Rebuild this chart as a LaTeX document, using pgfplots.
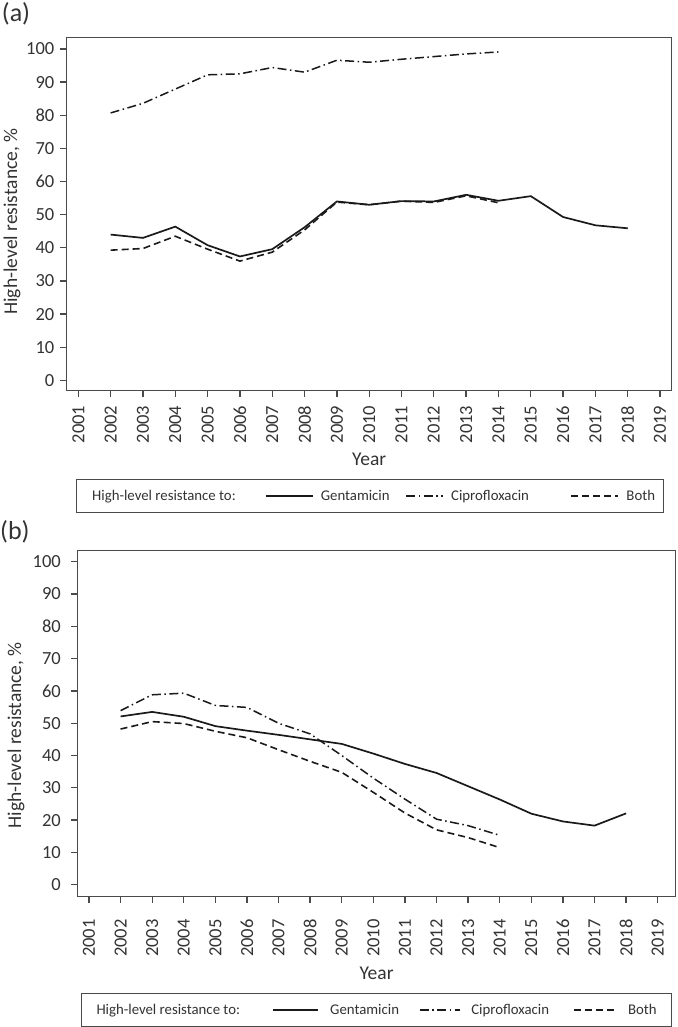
\documentclass[border=0pt]{standalone}
\usepackage{fontspec}
\setmainfont{Carlito}
\usepackage{pgfplots}
\pgfplotsset{compat=1.18}
\definecolor{axgray}{HTML}{4A4A4A}
\definecolor{txt}{HTML}{333333}
\definecolor{ln}{HTML}{1A1A1A}
\newcommand\tickfont{\fontsize{18.5}{20}\selectfont}
\newcommand\labfont{\fontsize{19.5}{22}\selectfont}
\newcommand\legfont{\fontsize{14.8}{17}\selectfont}
\newcommand\panfont{\fontsize{26}{28}\selectfont}
\pgfplotsset{
  myaxis/.style={
    scale only axis,
    xtick={2001,2002,...,2019},
    ytick={0,10,...,100},
    tick align=outside,
    major tick length=6.5pt,
    xtick pos=left, ytick pos=left,
    axis line style={axgray, line width=1.3pt},
    major tick style={axgray, line width=1.3pt},
    tick label style={font=\tickfont, text=txt},
    /pgf/number format/assume math mode=true,
    /pgf/number format/1000 sep={},
    label style={font=\labfont, text=txt},
    xlabel={Year},
    ylabel={High-level resistance, \%},
    legend cell align=left,
  },
  gent/.style={ln, line width=1.7pt},
  cipro/.style={ln, line width=1.5pt, dash pattern=on 9pt off 3.5pt on 1.5pt off 3.5pt},
  both/.style={ln, line width=1.6pt, dash pattern=on 7pt off 4pt},
  limg/.style={legend image code/.code={\draw[##1] (0pt,0pt) -- (#1,0pt);}},
}
\begin{document}
\begin{tikzpicture}
\path[use as bounding box] (0pt,0pt) rectangle (677pt,-1027pt);
\node[anchor=north west, inner sep=0pt, font=\panfont, text=txt] at (1.7pt,-2pt) {(a)};
\node[anchor=north west, inner sep=0pt, font=\panfont, text=txt] at (0pt,-520pt) {(b)};

\begin{axis}[myaxis,
  at={(66.7pt,-390.7pt)}, anchor=south west,
  width=605pt, height=353pt,
  xmin=2000.64, xmax=2019.36, ymin=-3.1, ymax=103.4,
  xticklabel style={rotate=90, anchor=east, inner sep=0pt, xshift=-8.3pt},
  yticklabel style={anchor=east, inner sep=0pt, xshift=-5.7pt},
  xlabel style={at={(axis description cs:0.5,-0.1765)}, anchor=north, inner sep=0pt},
  ylabel style={at={(axis description cs:-0.0904,0.479)}, anchor=center, inner sep=0pt},
  legend style={at={(axis description cs:0.01537,-0.2501)}, anchor=north west,
    draw=axgray, line width=1pt, legend columns=4, inner xsep=0pt, inner ysep=8.85pt,
    font=\legfont, text=txt,
    nodes={inner sep=0pt, text height=12pt, text depth=3pt},
    /tikz/every odd column/.style={column sep=7pt},
    /tikz/every even column/.style={column sep=0pt}},
]
\addlegendimage{empty legend}
\addlegendentry{\makebox[181.6pt][l]{\hspace{8.7pt}High-level resistance to:}}
\addplot[gent, limg=47pt] coordinates {
(2002,44.0) (2003,43.0) (2004,46.4) (2005,40.8) (2006,37.4) (2007,39.6) (2008,46.2)
(2009,54.0) (2010,53.0) (2011,54.1) (2012,54.0) (2013,56.0) (2014,54.2) (2015,55.6)
(2016,49.3) (2017,46.8) (2018,45.9)};
\addlegendentry{\makebox[84.9pt][l]{Gentamicin}}
\addplot[cipro, limg=37pt] coordinates {
(2002,80.7) (2003,83.6) (2004,87.9) (2005,92.2) (2006,92.5) (2007,94.4) (2008,93.0)
(2009,96.6) (2010,96.0) (2011,96.9) (2012,97.7) (2013,98.5) (2014,99.1)};
\addlegendentry{\makebox[119.4pt][l]{Ciprofloxacin}}
\addplot[both, limg=46.6pt] coordinates {
(2002,39.3) (2003,39.8) (2004,43.5) (2005,39.6) (2006,36.0) (2007,38.7) (2008,45.4)
(2009,53.8) (2010,53.0) (2011,54.1) (2012,53.7) (2013,55.7) (2014,53.6)};
\addlegendentry{\makebox[38pt][l]{\hspace{0.7pt}Both}}
\end{axis}

\begin{axis}[myaxis,
  at={(77.5pt,-896.7pt)}, anchor=south west,
  width=598.2pt, height=346pt,
  xmin=2000.636, xmax=2019.57, ymin=-3.7, ymax=103.4,
  xticklabel style={rotate=90, anchor=east, inner sep=0pt, xshift=-16pt},
  yticklabel style={anchor=east, inner sep=0pt, xshift=-10pt},
  xlabel style={at={(axis description cs:0.5,-0.2032)}, anchor=north, inner sep=0pt},
  ylabel style={at={(axis description cs:-0.1028,0.467)}, anchor=center, inner sep=0pt},
  legend style={at={(axis description cs:0.00535,-0.2783)}, anchor=north west,
    draw=axgray, line width=1pt, legend columns=4, inner xsep=0pt, inner ysep=9pt,
    font=\legfont, text=txt,
    nodes={inner sep=0pt, text height=12pt, text depth=3pt},
    /tikz/every odd column/.style={column sep=11pt},
    /tikz/every even column/.style={column sep=0pt}},
]
\addlegendimage{empty legend}
\addlegendentry{\makebox[180.3pt][l]{\hspace{4.3pt}High-level resistance to:}}
\addplot[gent, limg=45pt] coordinates {
(2002,52.1) (2003,53.5) (2004,52.0) (2005,49.1) (2006,47.7) (2007,46.4) (2008,45.0)
(2009,43.6) (2010,40.6) (2011,37.4) (2012,34.6) (2013,30.5) (2014,26.4) (2015,22.0)
(2016,19.6) (2017,18.3) (2018,22.1)};
\addlegendentry{\makebox[88.6pt][l]{Gentamicin}}
\addplot[cipro, limg=40pt] coordinates {
(2002,53.9) (2003,58.8) (2004,59.3) (2005,55.5) (2006,54.9) (2007,50.0) (2008,46.7)
(2009,40.0) (2010,33.0) (2011,26.5) (2012,20.3) (2013,18.3) (2014,15.3)};
\addlegendentry{\makebox[101.8pt][l]{Ciprofloxacin}}
\addplot[both, limg=40pt] coordinates {
(2002,48.2) (2003,50.5) (2004,49.9) (2005,47.5) (2006,45.5) (2007,41.8) (2008,38.2)
(2009,34.8) (2010,28.6) (2011,22.2) (2012,17.0) (2013,14.6) (2014,11.5)};
\addlegendentry{\makebox[46pt][l]{\hspace{2.3pt}Both}}
\end{axis}
\end{tikzpicture}
\end{document}
